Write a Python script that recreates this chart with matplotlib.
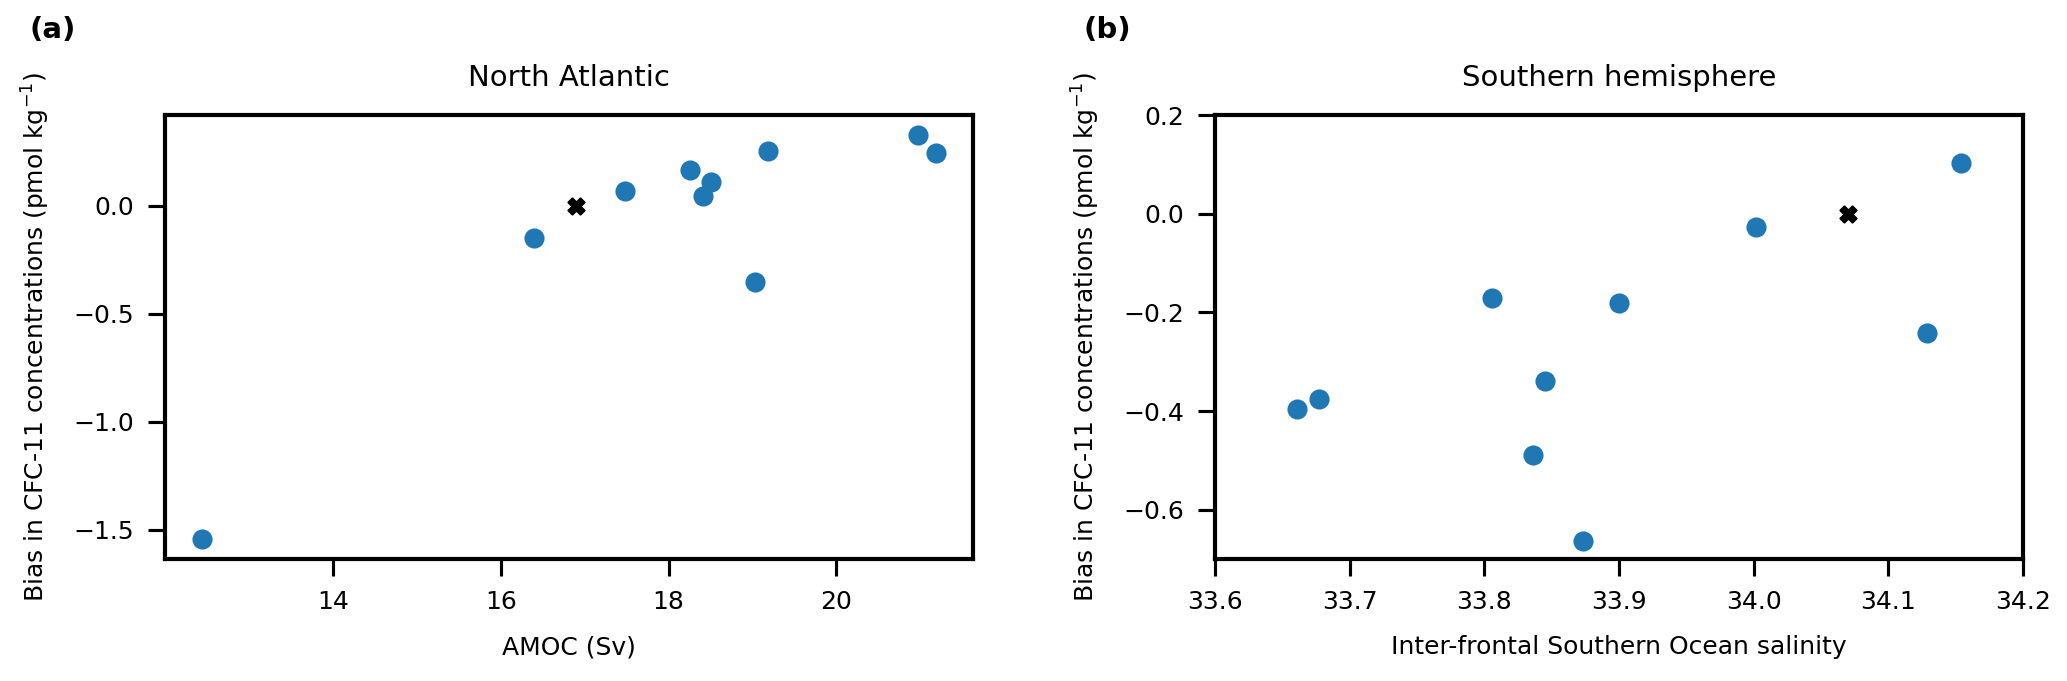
import matplotlib
matplotlib.use("Agg")
import matplotlib.pyplot as plt
import numpy as np

# North Atlantic: AMOC (Sv) vs CFC-11 bias
amoc = [12.43, 16.39, 17.48, 18.25, 18.41, 18.50, 19.03, 19.19, 20.98, 21.19]
bias_na = [-1.542, -0.149, 0.066, 0.165, 0.046, 0.109, -0.352, 0.255, 0.326, 0.245]
amoc_obs, bias_na_obs = 16.89, 0.0

# Southern hemisphere: inter-frontal salinity vs CFC-11 bias
salinity = [33.661, 33.677, 33.806, 33.836, 33.845, 33.873, 33.900, 34.002, 34.129, 34.154]
bias_sh = [-0.395, -0.376, -0.170, -0.489, -0.340, -0.664, -0.181, -0.027, -0.242, 0.102]
sal_obs, bias_sh_obs = 34.070, 0.0

ylab = r"Bias in CFC-11 concentrations (pmol kg$^{-1}$)"

plt.rcParams['font.family'] = ['DejaVu Sans']
plt.rcParams['axes.linewidth'] = 2.0
plt.rcParams['xtick.major.size'] = 8
plt.rcParams['ytick.major.size'] = 8
plt.rcParams['xtick.major.width'] = 1.5
plt.rcParams['ytick.major.width'] = 1.5
plt.rcParams['xtick.major.pad'] = 7
plt.rcParams['ytick.major.pad'] = 7
plt.rcParams['xtick.labelsize'] = 12
plt.rcParams['ytick.labelsize'] = 12
plt.rcParams['axes.labelsize'] = 12

fig, (ax1, ax2) = plt.subplots(1, 2, figsize=(13.78, 4.54), dpi=150)
fig.subplots_adjust(left=0.0798, right=0.9787, top=0.831, bottom=0.179, wspace=0.30)

ax1.scatter(amoc, bias_na, s=75, color='tab:blue', zorder=2)
ax1.scatter(amoc_obs, bias_na_obs, s=60, marker='X', color='black', zorder=3)
ax1.set_xlabel("AMOC (Sv)", labelpad=10)
ax1.set_ylabel(ylab, labelpad=10)
ax1.set_title("North Atlantic", fontsize=14, pad=14)
ax1.set_xticks([14, 16, 18, 20])
ax1.set_yticks([0.0, -0.5, -1.0, -1.5])

ax2.scatter(salinity, bias_sh, s=75, color='tab:blue', zorder=2)
ax2.scatter(sal_obs, bias_sh_obs, s=60, marker='X', color='black', zorder=3)
ax2.set_xlim(33.6, 34.2)
ax2.set_ylim(-0.7, 0.2)
ax2.set_xlabel("Inter-frontal Southern Ocean salinity", labelpad=10)
ax2.set_ylabel(ylab, labelpad=10)
ax2.set_title("Southern hemisphere", fontsize=14, pad=14)

fig.text(0.0145, 0.956, "(a)", fontsize=14, fontweight='bold', va='center')
fig.text(0.524, 0.956, "(b)", fontsize=14, fontweight='bold', va='center')

fig.savefig("out.png", dpi=150)
